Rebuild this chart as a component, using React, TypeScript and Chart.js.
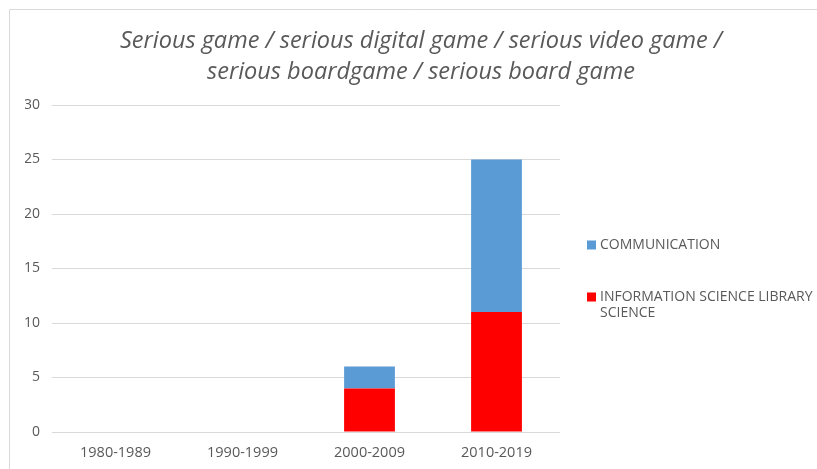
import React, { useEffect, useRef } from "react";
import { Chart, registerables } from "chart.js";

Chart.register(...registerables);

const TITLE_LINES = [
  "Serious game / serious digital game / serious video game /",
  "serious boardgame / serious board game",
];
const CATEGORIES = ["1980-1989", "1990-1999", "2000-2009", "2010-2019"];
const INFO_SCIENCE_LABEL = "INFORMATION SCIENCE LIBRARY SCIENCE";
const INFO_SCIENCE_VALUES = [0, 0, 4, 11];
const COMMUNICATION_LABEL = "COMMUNICATION";
const COMMUNICATION_VALUES = [0, 0, 2, 14];
const Y_MIN = 0;
const Y_MAX = 30;
const Y_STEP = 5;

const TEXT_COLOR = "#595959";
const GRID_COLOR = "#d9d9d9";
const FONT = "'Open Sans', 'Liberation Sans', sans-serif";

const borderPlugin = {
  id: "excelBorder",
  beforeDraw(chart: any) {
    const { ctx, width, height } = chart;
    ctx.save();
    ctx.strokeStyle = GRID_COLOR;
    ctx.lineWidth = 1;
    ctx.beginPath();
    ctx.moveTo(9.5, height);
    ctx.lineTo(9.5, 9.5);
    ctx.lineTo(width, 9.5);
    ctx.stroke();
    ctx.restore();
  },
};

const legendPlugin = {
  id: "sideLegend",
  afterDraw(chart: any) {
    const { ctx, chartArea } = chart;
    const datasets = [...chart.data.datasets].reverse();
    const boxX = chartArea.right + 27;
    const textX = boxX + 13;
    const maxW = chart.width - textX - 2;
    const fontSize = 14;
    ctx.save();
    ctx.font = `${fontSize}px ${FONT}`;
    ctx.textBaseline = "middle";
    ctx.textAlign = "left";
    const startYs = [245, 297];
    datasets.forEach((ds: any, i: number) => {
      const y = startYs[i];
      const words = String(ds.label).split(" ");
      const lines: string[] = [];
      let cur = "";
      words.forEach((w) => {
        const test = cur ? cur + " " + w : w;
        if (ctx.measureText(test).width > maxW && cur) {
          lines.push(cur);
          cur = w;
        } else cur = test;
      });
      if (cur) lines.push(cur);
      ctx.fillStyle = ds.backgroundColor;
      ctx.fillRect(boxX, y - 4.5, 9, 9);
      ctx.fillStyle = TEXT_COLOR;
      lines.forEach((ln, j) => ctx.fillText(ln, textX, y + j * 16.5));
    });
    ctx.restore();
  },
};

export default function App() {
  const ref = useRef<HTMLCanvasElement>(null);
  useEffect(() => {
    if (!ref.current) return;
    const chart = new Chart(ref.current, {
      type: "bar",
      data: {
        labels: CATEGORIES,
        datasets: [
          {
            label: INFO_SCIENCE_LABEL,
            data: INFO_SCIENCE_VALUES,
            backgroundColor: "#ff0000",
            barPercentage: 0.4,
            categoryPercentage: 1,
          },
          {
            label: COMMUNICATION_LABEL,
            data: COMMUNICATION_VALUES,
            backgroundColor: "#5b9bd5",
            barPercentage: 0.4,
            categoryPercentage: 1,
          },
        ],
      },
      options: {
        responsive: false,
        animation: false,
        devicePixelRatio: 1,
        layout: { padding: { left: 25, right: 0, top: 10, bottom: 0 } },
        plugins: {
          legend: { display: false },
          tooltip: { enabled: false },
          title: {
            display: true,
            text: TITLE_LINES,
            color: TEXT_COLOR,
            font: { family: FONT, size: 23.5, style: "italic", weight: "normal", lineHeight: "31px" },
            padding: { top: 15.5, bottom: 17.5 },
          },
        },
        scales: {
          x: {
            stacked: true,
            grid: { display: false, drawTicks: false },
            border: { display: false },
            ticks: { color: TEXT_COLOR, font: { family: FONT, size: 14.5 }, padding: 12.5, maxRotation: 0 },
            afterFit: (s: any) => {
              s.height = 37;
            },
          },
          y: {
            stacked: true,
            min: Y_MIN,
            max: Y_MAX,
            ticks: { stepSize: Y_STEP, color: TEXT_COLOR, font: { family: FONT, size: 14 }, padding: 12 },
            grid: { color: GRID_COLOR, drawTicks: false, lineWidth: 1 },
            border: { display: false },
            afterFit: (s: any) => {
              s.width = 27;
            },
          },
          legendSpace: {
            type: "linear",
            position: "right",
            display: true,
            grid: { display: false, drawTicks: false },
            border: { display: false },
            ticks: { display: false },
            afterFit: (s: any) => {
              s.width = 257;
            },
          },
        },
      },
      plugins: [borderPlugin, legendPlugin],
    } as any);
    return () => chart.destroy();
  }, []);
  return (
    <div style={{ position: "fixed", left: 0, top: 0, width: 817, height: 469, background: "#fff" }}>
      <canvas ref={ref} width={817} height={469} style={{ display: "block" }} />
    </div>
  );
}
